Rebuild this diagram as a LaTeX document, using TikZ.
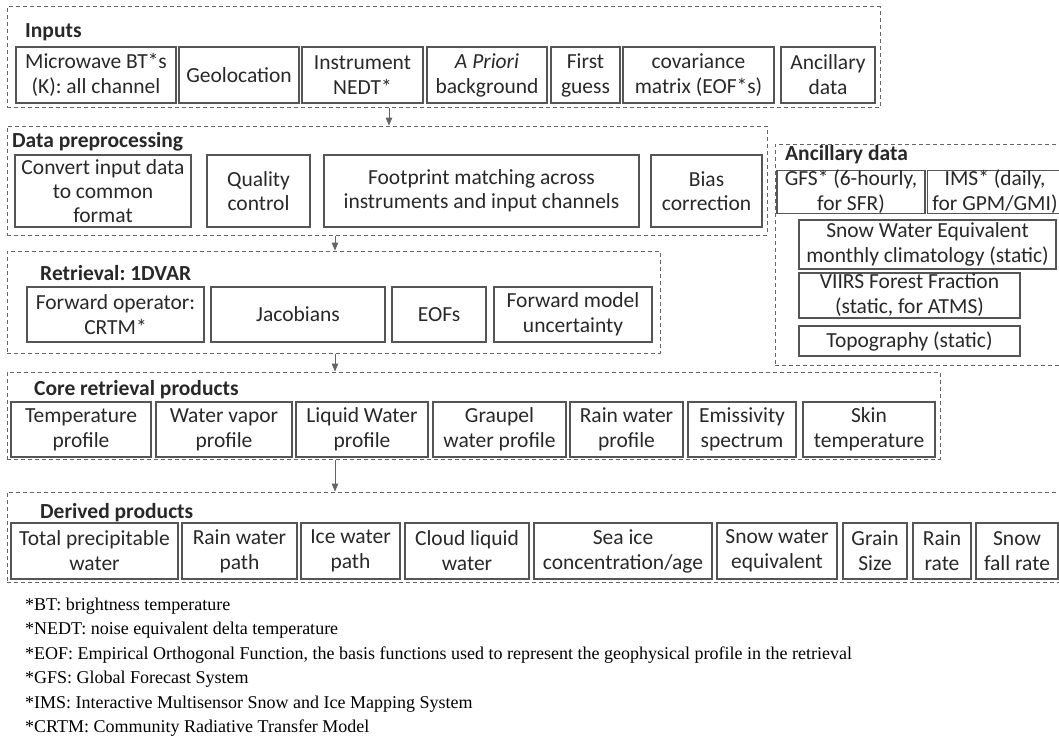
\documentclass[tikz,border=0pt]{standalone}
\usepackage{fontspec}
\setmainfont{Carlito}
\newfontfamily\notefont{Liberation Serif}
\usepackage{tikz}
\usetikzlibrary{arrows}
\frenchspacing

\definecolor{boxColor}{RGB}{85,85,85}
\definecolor{grpColor}{RGB}{100,100,100}
\definecolor{txtColor}{RGB}{40,40,40}

\begin{document}
\begin{tikzpicture}[x=1pt,y=-1pt,
  box/.style={draw=boxColor,line width=1.1pt,align=center,inner sep=0pt,text=txtColor,font=\fontsize{21.5}{25}\selectfont},
  grp/.style={draw=grpColor,line width=1pt,dash pattern=on 4pt off 3pt,inner sep=0pt},
  ttl/.style={anchor=west,inner sep=0pt,text=txtColor,font=\fontsize{21.5}{25}\selectfont\bfseries},
  note/.style={anchor=west,inner sep=0pt,font=\notefont\fontsize{18}{21}\selectfont}]
\useasboundingbox (0,0) rectangle (1059,741);
\node[grp,minimum width=873,minimum height=101] (inp) at (443.5,57.5) {};
\node[grp,minimum width=760,minimum height=109] (prep) at (387,180.5) {};
\node[grp,minimum width=653,minimum height=102] (ret) at (333.5,302) {};
\node[grp,minimum width=933,minimum height=87] (core) at (473.5,415.5) {};
\node[grp,minimum width=1057,minimum height=90] (der) at (535.5,537) {};
\node[grp,minimum width=289,minimum height=221] (anc) at (919.5,254.5) {};
\node[ttl] (tinp) at (25,32) {Inputs};
\node[ttl] (tprep) at (12,142) {Data preprocessing};
\node[ttl] (tret) at (40,273) {Retrieval: 1DVAR};
\node[ttl] (tcore) at (34,390) {Core retrieval products};
\node[ttl] (tder) at (40,513) {Derived products};
\node[ttl] (tanc) at (785,155) {Ancillary data};
\foreach \cx/\w/\n/\t in {96/160/mw/{Microwave BT*s\\(K): all channel},239/120/geo/Geolocation,362.5/121/nedt/{Instrument\\NEDT*},
  487/120/apri/{{\itshape A Priori}\\background},585.5/69/fg/{First\\guess},698.5/151/cov/{covariance\\matrix (EOF*s)},828/94/ancin/{Ancillary\\data}}
  \node[box,minimum width=\w,minimum height=56] (\n) at (\cx,75) {\t};
\foreach \cx/\w/\n/\t in {103/176/conv/{Convert input data\\to common\\format},258.5/103/qc/{Quality\\control},
  481.5/315/fp/{Footprint matching across\\instruments and input channels},706.5/111/bias/{Bias\\correction}}
  \node[box,minimum width=\w,minimum height=72,font=\fontsize{21.5}{24}\selectfont] (\n) at (\cx,191) {\t};
\foreach \cx/\w/\n/\t in {115.5/177/fwd/{Forward operator:\\CRTM*},298/174/jac/Jacobians,439/94/eofs/EOFs,573/158/fmu/{Forward model\\uncertainty}}
  \node[box,minimum width=\w,minimum height=55] (\n) at (\cx,314.5) {\t};
\foreach \cx/\w/\n/\t in {81/140/temp/{Temperature\\profile},224/136/wv/{Water vapor\\profile},362/132/lw/{Liquid Water\\profile},
  499.5/133/grp/{Graupel\\water profile},626.5/113/rw/{Rain water\\profile},742/108/emis/{Emissivity\\spectrum},869/132/skin/{Skin\\temperature}}
  \node[box,minimum width=\w,minimum height=55] (\n) at (\cx,429.5) {\t};
\foreach \cx/\w/\n/\t in {94.5/167/tpw/{Total precipitable\\water},239.5/115/rwp/{Rain water\\path},350.5/99/iwp/{Ice water\\path},
  467/124/clw/{Cloud liquid\\water},623/178/sic/{Sea ice\\concentration/age},777/120/swe/{Snow water\\equivalent},
  875/64/gs/{Grain\\Size},942/58/rr/{Rain\\rate},1017/82/sfr/{Snow\\fall rate}}
  \node[box,minimum width=\w,minimum height=56] (\n) at (\cx,551) {\t};
\node[box,minimum width=148,minimum height=42] (gfs) at (851,192) {GFS* (6-hourly,\\for SFR)};
\node[box,minimum width=135,minimum height=42] (ims) at (995,192) {IMS* (daily,\\for GPM/GMI)};
\node[box,minimum width=257,minimum height=49] (swc) at (927.5,244.5) {Snow Water Equivalent\\monthly climatology (static)};
\node[box,minimum width=221,minimum height=45] (viirs) at (909.5,295.5) {VIIRS Forest Fraction\\(static, for ATMS)};
\node[box,minimum width=221,minimum height=30] (topo) at (909.5,341) {Topography (static)};
\coordinate (a1) at (389,0);
\coordinate (a2) at (335,0);
\draw[->,>=triangle 45,draw=grpColor,line width=0.8pt] (inp.south -| a1) -- (prep.north -| a1);
\draw[->,>=triangle 45,draw=grpColor,line width=0.8pt] (prep.south -| a2) -- (ret.north -| a2);
\draw[->,>=triangle 45,draw=grpColor,line width=0.8pt] (ret.south -| a2) -- (core.north -| a2);
\draw[->,>=triangle 45,draw=grpColor,line width=0.8pt] (core.south -| a2) -- (der.north -| a2);
\foreach \y/\n/\t in {606/fn1/{*BT: brightness temperature},630.5/fn2/{*NEDT: noise equivalent delta temperature},
  655/fn3/{*EOF: Empirical Orthogonal Function, the basis functions used to represent the geophysical profile in the retrieval},
  679.5/fn4/{*GFS: Global Forecast System},704/fn5/{*IMS: Interactive Multisensor Snow and Ice Mapping System},
  728.5/fn6/{*CRTM: Community Radiative Transfer Model}}
  \node[note] (\n) at (25,\y) {\t};
\end{tikzpicture}
\end{document}
